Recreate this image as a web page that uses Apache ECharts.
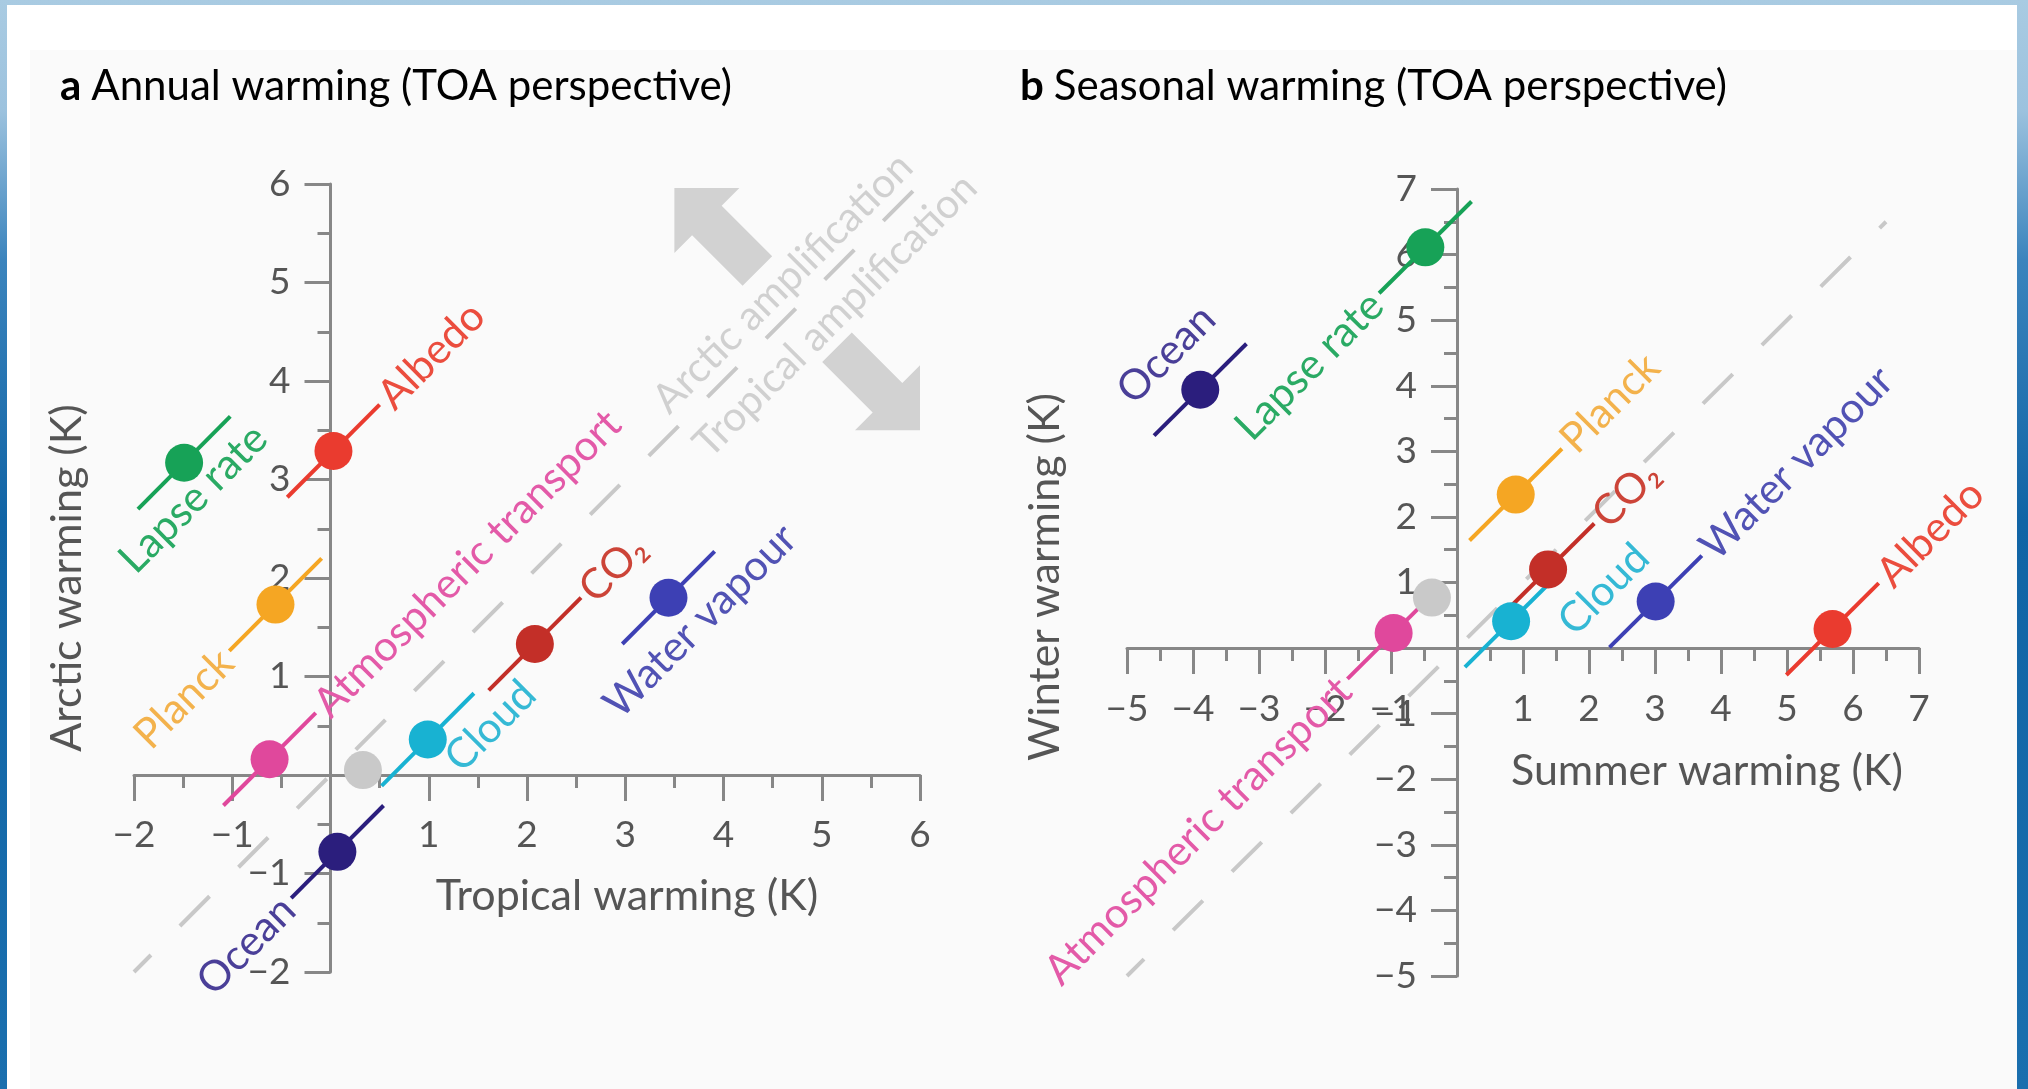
<!DOCTYPE html>
<html><head><meta charset="utf-8">
<script src="https://cdn.jsdelivr.net/npm/echarts@6/dist/echarts.min.js"></script>
<style>
html,body{margin:0;padding:0;width:2028px;height:1089px;overflow:hidden;}
body{background:linear-gradient(to bottom,#a9cbe2 0px,#9cc2de 110px,#3b84bd 260px,#1064a5 520px,#1a6fae 1089px);}
#paper{position:absolute;left:7px;top:5px;width:2010px;height:1084px;background:#ffffff;}
#inner{position:absolute;left:30px;top:50px;width:1987px;height:1039px;background:#fafafa;}
#chart{position:absolute;left:0;top:0;width:2028px;height:1089px;}
</style></head>
<body>
<div id="paper"></div><div id="inner"></div>
<div id="chart"></div>
<script>
// ---------------- data ----------------
const factorNames    = ['Lapse rate','Albedo','Planck','Atmospheric transport','','Cloud','CO\u2082','Water vapour','Ocean'];
// panel a: annual warming
const annualTropical = [-1.49, 0.03, -0.56, -0.62, 0.33, 0.99, 2.08, 3.44,  0.07];
const annualArctic   = [ 3.17, 3.29,  1.73,  0.16, 0.05, 0.36, 1.33, 1.80, -0.78];
// panel b: seasonal warming
const seasonalSummer = [-0.48, 5.69, 0.89, -0.96, -0.38, 0.82, 1.38, 3.01, -3.89];
const seasonalWinter = [ 6.11, 0.29, 2.34,  0.23,  0.77, 0.41, 1.20, 0.71,  3.94];
// axis ranges
const annualRange    = [-2, 6];
const seasonalRange  = [-5, 7];
const annualDiagonal   = [-2, 6];
const seasonalDiagonal = [-5, 6.5];
// amplification annotation (panel a)
const arrowTips = [[3.5, 5.96], [6.0, 3.5]];
const ampAnchor = [4.85, 4.85];
const ampTexts  = ['Arctic amplification', 'Tropical amplification'];

// ---------------- style / layout ----------------
const FONT = 'Lato, "Open Sans", sans-serif';
const AXIS_COLOR = '#878787';
const TEXT_COLOR = '#555555';
const factorColors = ['#17a257','#ea3b2f','#f5a623','#e0489c','#c9c9c9','#18b2d2','#c32f28','#3d40b4','#2b1e7d'];
const labelColors  = ['#2aaa64','#eb4d3e','#f3b24c','#e35aa8','#c9c9c9','#35b9d5','#cc4438','#5152b4','#4a3f98'];
const placeA = ['below','end','start','end',null,'below','end','below','start'];
const placeB = ['start','end','end','start',null,'below','end','end','above'];
const offA = {0:[-19,32], 5:[54,35], 7:[6,39]};
const offB = {5:[88,43], 8:[1,-49]};
const SEG_PX = 65;
const segHalf = [0.47, 0.70];
const DOT = 38;
const grids = [{left:134, top:184, width:786, height:788},
               {left:1127, top:189, width:792, height:787}];

function labelFor(place, off, color) {
  const base = {show:true, position:'inside', rotate:45, color:color, fontSize:42,
                fontFamily:FONT, verticalAlign:'middle'};
  if (place === 'end')   return Object.assign(base, {align:'left',  offset:[SEG_PX+6, 2]});
  if (place === 'start') return Object.assign(base, {align:'right', offset:[-(SEG_PX+6), 2]});
  return Object.assign(base, {align:'center', offset:off});
}

function axisPair(idx, range) {
  const fmt = v => v === 0 ? '' : (v < 0 ? '\u2212' + Math.abs(v) : String(v));
  const g = grids[idx];
  const frac = (0 - range[0]) / (range[1] - range[0]);
  const mk = (isX) => ({
    type:'value', min:range[0], max:range[1], interval:1, gridIndex:idx,
    position: isX ? 'bottom' : 'left',
    offset: isX ? -frac * g.height : -frac * g.width,
    axisLine:{show:true, onZero:false, lineStyle:{color:AXIS_COLOR, width:3}},
    axisTick:{show:true, length:26, lineStyle:{color:AXIS_COLOR, width:3}},
    minorTick:{show:true, splitNumber:2, length:13, lineStyle:{color:AXIS_COLOR, width:3}},
    splitLine:{show:false}, minorSplitLine:{show:false},
    axisLabel:{formatter:fmt, fontSize:37, fontFamily:FONT, color:TEXT_COLOR,
               margin: isX ? 42 : 40, showMinLabel:true, showMaxLabel:true}
  });
  return [mk(true), mk(false)];
}

function panelSeries(idx, xs, ys, place, offs, diag, half) {
  const s = [];
  s.push({type:'line', xAxisIndex:idx, yAxisIndex:idx, silent:true, z:1,
    data:[[diag[0],diag[0]],[diag[1],diag[1]]], symbol:'none',
    lineStyle:{color:'#c8c8c8', width:4, type:[42,41], dashOffset:18}});
  s.push({type:'lines', coordinateSystem:'cartesian2d', xAxisIndex:idx, yAxisIndex:idx, silent:true, z:3,
    data: xs.map((x,i)=> place[i] ? {coords:[[x-half, ys[i]-half],[x+half, ys[i]+half]],
      lineStyle:{color:factorColors[i], width:4, opacity:1}} : null).filter(Boolean),
    lineStyle:{width:4, opacity:1}});
  s.push({type:'scatter', xAxisIndex:idx, yAxisIndex:idx, silent:true, z:4, symbolSize:DOT,
    data: xs.map((x,i)=>({name:factorNames[i], value:[x, ys[i]],
      itemStyle:{color:factorColors[i], opacity:1},
      label: place[i] ? Object.assign(labelFor(place[i], offs[i], labelColors[i]), {formatter:factorNames[i]}) : {show:false}
    }))});
  return s;
}

const chart = echarts.init(document.getElementById('chart'), null, {renderer:'canvas'});
const [xa, ya] = axisPair(0, annualRange);
const [xb, yb] = axisPair(1, seasonalRange);

const series = []
  .concat(panelSeries(0, annualTropical, annualArctic, placeA, offA, annualDiagonal, segHalf[0]))
  .concat(panelSeries(1, seasonalSummer, seasonalWinter, placeB, offB, seasonalDiagonal, segHalf[1]));

series.push({type:'custom', xAxisIndex:0, yAxisIndex:0, silent:true, z:0, clip:false,
  data: arrowTips.map((p,i)=>[p[0], p[1], i===0 ? -1 : 1]),
  renderItem: function(params, api) {
    const t = api.coord([api.value(0), api.value(1)]);
    const sgn = api.value(2);
    const shape = [[0,0],[65,0],[47.3,17.7],[97.8,68.2],[68.2,97.8],[17.7,47.3],[0,65]];
    return {type:'polygon', shape:{points:shape.map(d=>[t[0]-sgn*d[0], t[1]-sgn*d[1]])},
            style:{fill:'#d2d2d2'}};
  }});
series.push({type:'scatter', xAxisIndex:0, yAxisIndex:0, silent:true, z:2, symbolSize:0,
  data: ampTexts.map((t,i)=>({value:ampAnchor, label:{show:true, formatter:t, position:'inside', rotate:45,
     align:'center', verticalAlign:'middle', fontSize:41, fontFamily:FONT, color:'#c6c6c6',
     offset: i===0 ? [-7,-27] : [7,33]}}))});

const titleRich = {b:{fontSize:42, fontWeight:'bold', fontFamily:FONT, color:'#222', padding:[0,10,0,0]},
                   n:{fontSize:42, fontFamily:FONT, color:'#5a5a5a'}};
const nameStyle = {fontSize:43, fontFamily:FONT, fill:TEXT_COLOR, align:'center', verticalAlign:'middle'};
chart.setOption({
  animation:false,
  backgroundColor:'transparent',
  grid: grids,
  xAxis:[xa, xb], yAxis:[ya, yb],
  series: series,
  graphic:[
    {type:'text', left:60, top:65, style:{text:'{b|a}{n|Annual warming (TOA perspective)}', rich:titleRich}},
    {type:'text', left:1020, top:65, style:{text:'{b|b}{n|Seasonal warming (TOA perspective)}', rich:titleRich}},
    {type:'text', x:627, y:896, style:Object.assign({text:'Tropical warming (K)'}, nameStyle)},
    {type:'text', x:67, y:578, rotation:Math.PI/2, style:Object.assign({text:'Arctic warming (K)'}, nameStyle)},
    {type:'text', x:1707, y:771, style:Object.assign({text:'Summer warming (K)'}, nameStyle)},
    {type:'text', x:1045, y:577, rotation:Math.PI/2, style:Object.assign({text:'Winter warming (K)'}, nameStyle)}
  ]
});
</script>
</body></html>
